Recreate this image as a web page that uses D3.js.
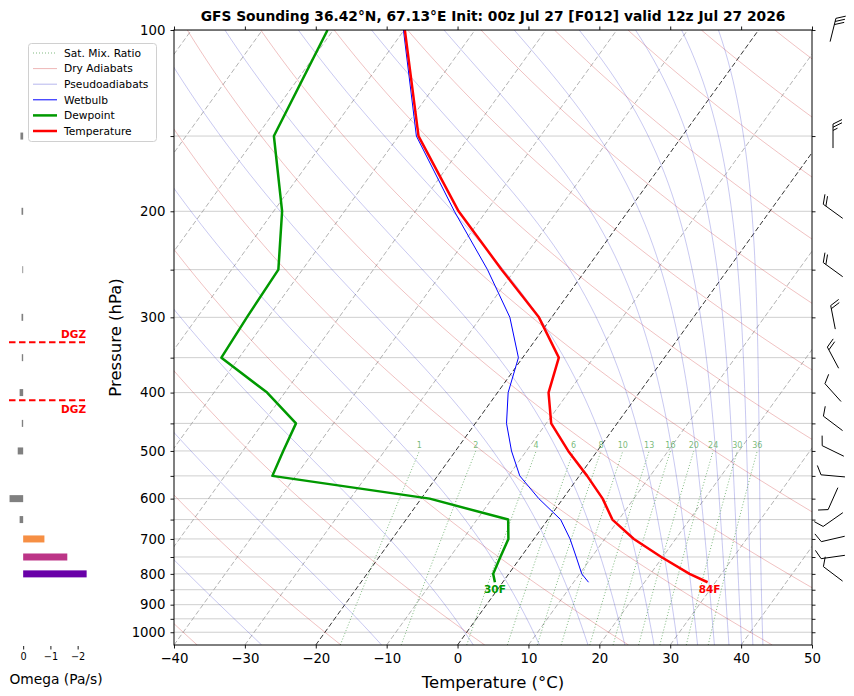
<!DOCTYPE html>
<html>
<head>
<meta charset="utf-8">
<script src="https://cdn.jsdelivr.net/npm/d3@7"></script>
<style>
  body { margin: 0; background: #fff; }
  text { font-family: "DejaVu Sans", sans-serif; }
</style>
</head>
<body>
<div id="chart"></div>
<script>

const WIDTH = 854;
const HEIGHT = 696;

// Skew-T plot box.
const PLOT = {'left': 174, 'right': 812, 'top': 30, 'bottom': 645};
const SKEW = 0.72;   // px of x per px of y

// Sounding (hPa, degC).
const pressure    = [100, 150, 200, 250, 300, 350, 400, 450, 500, 550, 600, 650, 700, 750, 800, 826];
const temperature = [-69.9, -57.2, -43.9, -31.9, -21.8, -14.9, -12.8, -9.3, -4.1, 1.1, 5.6, 9.1, 14.1, 19.8, 25.5, 28.9];
const wetbulb     = [-70.1, -57.5, -44.5, -33.9, -25.9, -20.6, -18.5, -15.6, -12.1, -8.4, -3.4, 1.8, 5.1, 7.8, 10.3, 12.1];
const dewpoint    = [-80.8, -77.6, -68.8, -63.4, -63.0, -62.5, -52.5, -45.3, -44.3, -43.3, -18.8, -5.6, -3.6, -2.9, -2.2, -1.1];

// Winds (deg, kt).
const windLevels = [100, 150, 200, 250, 300, 350, 400, 450, 500, 550, 600, 650, 700, 750, 800];
const windDir    = [14, 0, 306, 306, 349, 332, 318, 307, 296, 275, 204, 235, 257, 262, 307];
const windSpeed  = [30, 25, 20, 20, 20, 20, 10, 10, 10, 10, 10, 10, 10, 10, 10];

// Omega (Pa/s).
const omegaLevels = [100, 150, 200, 250, 300, 350, 400, 450, 500, 550, 600, 650, 700, 750, 800];
const omegaValues = [0, 0.10, 0.06, 0.03, 0.06, 0.05, 0.13, 0.05, 0.20, 0, 0.50, 0.13, -0.78, -1.62, -2.33];
const omegaTicks = [0, -1, -2];

// Dendritic growth zone bounds (hPa).
const dgzPressure = [330, 412];

// Background lines.
const isotherms = [-110, -100, -90, -80, -70, -60, -50, -40, -30, -20, -10, 0, 10, 20, 30, 40, 50];
const dryThetas = [-40, -20, 0, 20, 40, 60, 80, 100, 120, 140, 160, 180, 200, 220, 240];       // degC
const moistThetaE = [223.15, 243.15, 263.15, 283.15, 303.15, 323.15, 343.15, 363.15, 383.15,
                     403.15, 423.15, 443.15, 463.15, 483.15, 503.15];                            // K
const mixingRatios = [1, 2, 4, 6, 8, 10, 13, 16, 20, 24, 30, 36];   // g/kg
const pressureTicks = [100, 150, 200, 250, 300, 350, 400, 450, 500, 550, 600, 650, 700, 750,
                       800, 850, 900, 950, 1000];
const pressureLabels = [100, 200, 300, 400, 500, 600, 700, 800, 900, 1000];

const TITLE = "GFS Sounding 36.42°N, 67.13°E Init: 00z Jul 27 [F012] valid 12z Jul 27 2026";


const xScale = d3.scaleLinear().domain([-40, 50]).range([PLOT.left, PLOT.right]);
const yScale = d3.scaleLog().domain([1050, 100]).range([PLOT.bottom, PLOT.top]);

function skewX(t, p) {
    return xScale(t) + SKEW * (PLOT.bottom - yScale(p));
}

function satVap(tc) {
    return 6.112 * Math.exp(17.67 * tc / (tc + 243.5));
}

// Bolton theta-e for saturated air.
function thetaESat(tc, p) {
    var es = satVap(tc);
    if (es > 0.5 * p) return 1e9;
    var r = 622 * es / (p - es);
    var T = tc + 273.15;
    return T * Math.pow(1000 / p, 0.2854 * (1 - 0.00028 * r)) *
           Math.exp((3.376 / T - 0.00254) * r * (1 + 0.00081 * r));
}

function moistTemp(te, p) {
    var lo = -170, hi = 60;
    for (var i = 0; i < 60; i++) {
        var mid = (lo + hi) / 2;
        if (thetaESat(mid, p) > te) hi = mid; else lo = mid;
    }
    return (lo + hi) / 2;
}

function dewFromMix(w, p) {
    var e = p * w / 1000 / (0.622 + w / 1000);
    var l = Math.log(e / 6.112);
    return 243.5 * l / (17.67 - l);
}

function pRange(p0, p1, n) {
    var out = [];
    for (var i = 0; i <= n; i++) out.push(p0 * Math.pow(p1 / p0, i / n));
    return out;
}

var line = d3.line().x(function (d) { return d[0]; }).y(function (d) { return d[1]; });


var svg = d3.select("#chart").append("svg")
            .attr("width", WIDTH)
            .attr("height", HEIGHT);

svg.append("defs").append("clipPath").attr("id", "plotclip")
   .append("rect")
   .attr("x", PLOT.left).attr("y", PLOT.top)
   .attr("width", PLOT.right - PLOT.left).attr("height", PLOT.bottom - PLOT.top);

var plot = svg.append("g").attr("clip-path", "url(#plotclip)");

// grid lines
plot.selectAll(".hgrid").data(pressureTicks).enter().append("line")
    .attr("x1", PLOT.left).attr("x2", PLOT.right)
    .attr("y1", function (d) { return yScale(d); })
    .attr("y2", function (d) { return yScale(d); })
    .attr("stroke", "#cfcfcf").attr("stroke-width", 1);

// isotherms
plot.selectAll(".iso").data(isotherms).enter().append("line")
    .attr("x1", function (d) { return skewX(d, 1050); })
    .attr("y1", yScale(1050))
    .attr("x2", function (d) { return skewX(d, 100); })
    .attr("y2", yScale(100))
    .attr("stroke", function (d) { return (d == 0 || d == -20) ? "#000" : "#a0a0a0"; })
    .attr("stroke-width", 0.8)
    .attr("stroke-dasharray", "5,2.5");

// dry adiabats
var pDry = pRange(1050, 100, 60);
plot.selectAll(".dry").data(dryThetas).enter().append("path")
    .attr("d", function (th) {
        return line(pDry.map(function (p) {
            var t = (th + 273.15) * Math.pow(p / 1000, 0.2857) - 273.15;
            return [skewX(t, p), yScale(p)];
        }));
    })
    .attr("fill", "none").attr("stroke", "#cc3333")
    .attr("stroke-opacity", 0.5).attr("stroke-width", 0.6);

// pseudoadiabats
plot.selectAll(".moist").data(moistThetaE).enter().append("path")
    .attr("d", function (te) {
        return line(pDry.map(function (p) {
            return [skewX(moistTemp(te, p), p), yScale(p)];
        }));
    })
    .attr("fill", "none").attr("stroke", "#3333cc")
    .attr("stroke-opacity", 0.45).attr("stroke-width", 0.6);

// mixing ratio lines
var pMix = pRange(1050, 500, 20);
plot.selectAll(".mix").data(mixingRatios).enter().append("path")
    .attr("d", function (w) {
        return line(pMix.map(function (p) {
            return [skewX(dewFromMix(w, p), p), yScale(p)];
        }));
    })
    .attr("fill", "none").attr("stroke", "#2a8a2a")
    .attr("stroke-opacity", 0.75).attr("stroke-width", 0.8)
    .attr("stroke-dasharray", "1,2");

svg.selectAll(".mixlab").data(mixingRatios).enter().append("text")
   .attr("x", function (w) { return skewX(dewFromMix(w, 500), 500); })
   .attr("y", yScale(500) - 3)
   .attr("text-anchor", "middle")
   .attr("font-size", "8px")
   .attr("fill", "#3c9a3c").attr("fill-opacity", 0.7)
   .text(function (w) { return w; });

// profiles
function profile(values) {
    return line(pressure.map(function (p, i) { return [skewX(values[i], p), yScale(p)]; }));
}

plot.append("path").attr("d", profile(wetbulb))
    .attr("fill", "none").attr("stroke", "#0000ff").attr("stroke-width", 1);
plot.append("path").attr("d", profile(dewpoint))
    .attr("fill", "none").attr("stroke", "#009900").attr("stroke-width", 2.5)
    .attr("stroke-linejoin", "round");
plot.append("path").attr("d", profile(temperature))
    .attr("fill", "none").attr("stroke", "#ff0000").attr("stroke-width", 2.5)
    .attr("stroke-linejoin", "round");

// surface labels
var nS = pressure.length - 1;
function cToF(c) { return Math.round(c * 9 / 5 + 32); }
svg.append("text")
   .attr("x", skewX(temperature[nS], pressure[nS]) + 2)
   .attr("y", yScale(pressure[nS]) + 11)
   .attr("text-anchor", "middle").attr("font-size", "10.5px").attr("font-weight", "bold")
   .attr("fill", "#ff0000").text(cToF(temperature[nS]) + "F");
svg.append("text")
   .attr("x", skewX(dewpoint[nS], pressure[nS]))
   .attr("y", yScale(pressure[nS]) + 11)
   .attr("text-anchor", "middle").attr("font-size", "10.5px").attr("font-weight", "bold")
   .attr("fill", "#009900").text(cToF(dewpoint[nS]) + "F");

// axes
svg.append("rect")
   .attr("x", PLOT.left).attr("y", PLOT.top)
   .attr("width", PLOT.right - PLOT.left).attr("height", PLOT.bottom - PLOT.top)
   .attr("fill", "none").attr("stroke", "#000").attr("stroke-width", 1);

function styleAxis(g, size) {
    g.select(".domain").remove();
    g.selectAll("text").attr("font-family", "DejaVu Sans").attr("font-size", size).attr("fill", "#000");
    g.selectAll("line").attr("stroke", "#000").attr("stroke-width", 0.9);
}

var tempTicks = isotherms.filter(function (d) { return d >= -40 && d <= 50; });

svg.append("g").attr("transform", "translate(0," + PLOT.bottom + ")")
   .call(d3.axisBottom(xScale).tickValues(tempTicks).tickSize(3.5).tickPadding(5))
   .call(styleAxis, "13.3px");
svg.append("g").attr("transform", "translate(0," + PLOT.top + ")")
   .call(d3.axisTop(xScale).tickValues(tempTicks).tickSize(3.5).tickFormat(""))
   .call(styleAxis, "13.3px");
svg.append("g").attr("transform", "translate(" + PLOT.left + ",0)")
   .call(d3.axisLeft(yScale).tickValues(pressureTicks).tickSize(3.5).tickPadding(5)
           .tickFormat(function (d) { return pressureLabels.indexOf(d) >= 0 ? d : ""; }))
   .call(styleAxis, "13.3px");
svg.append("g").attr("transform", "translate(" + PLOT.right + ",0)")
   .call(d3.axisRight(yScale).tickValues(pressureTicks).tickSize(3.5).tickFormat(""))
   .call(styleAxis, "13.3px");

svg.append("text")
   .attr("x", (PLOT.left + PLOT.right) / 2).attr("y", 688)
   .attr("text-anchor", "middle").attr("font-size", "16.5px")
   .text("Temperature (°C)");
svg.append("text")
   .attr("transform", "translate(121," + (PLOT.top + PLOT.bottom) / 2 + ") rotate(-90)")
   .attr("text-anchor", "middle").attr("font-size", "16.5px")
   .text("Pressure (hPa)");
svg.append("text")
   .attr("x", (PLOT.left + PLOT.right) / 2).attr("y", 21)
   .attr("text-anchor", "middle").attr("font-size", "13.8px").attr("font-weight", "bold")
   .text(TITLE);

// wind barbs
function barbPath(cx, cy, dir, spd) {
    var L = 24, H = 9, S = 3.2;
    var a = dir * Math.PI / 180;
    var ux = Math.sin(a), uy = -Math.cos(a);
    var rx = -uy, ry = ux;
    var tx = cx + ux * L / 2, ty = cy + uy * L / 2;
    var bx = cx - ux * L / 2, by = cy - uy * L / 2;
    var d = "M" + bx + "," + by + "L" + tx + "," + ty;
    var s = Math.round(spd / 5) * 5;
    var nfull = Math.floor(s / 10);
    var half = (s - nfull * 10) >= 5;
    var off = 0;
    for (var i = 0; i < nfull; i++) {
        var px = tx - ux * off, py = ty - uy * off;
        d += "M" + px + "," + py + "L" + (px + rx * H + ux * H / 2) + "," + (py + ry * H + uy * H / 2);
        off += S;
    }
    if (half) {
        if (nfull == 0) off = S;
        var qx = tx - ux * off, qy = ty - uy * off;
        d += "M" + qx + "," + qy + "L" + (qx + rx * H / 2 + ux * H / 4) + "," + (qy + ry * H / 2 + uy * H / 4);
    }
    return d;
}

svg.selectAll(".barb").data(windLevels).enter().append("path")
   .attr("d", function (p, i) { return barbPath(833, yScale(p), windDir[i], windSpeed[i]); })
   .attr("fill", "none").attr("stroke", "#000").attr("stroke-width", 1);

// omega panel
var oScale = d3.scaleLinear().domain([0.52, -2.27]).range([9, 85]);
var plasma = d3.scaleLinear().domain([0, -2.9]).range([1, 0]);

svg.selectAll(".omega").data(omegaLevels).enter().append("rect")
   .attr("x", function (p, i) { return Math.min(oScale(0), oScale(omegaValues[i])); })
   .attr("width", function (p, i) { return Math.abs(oScale(omegaValues[i]) - oScale(0)); })
   .attr("y", function (p) { return yScale(p) - 3.5; })
   .attr("height", 7)
   .attr("fill", function (p, i) {
       var w = omegaValues[i];
       return w < 0 ? d3.interpolatePlasma(plasma(w)) : "#808080";
   });

svg.append("g").attr("transform", "translate(0," + (PLOT.bottom + 1) + ")")
   .call(d3.axisBottom(oScale).tickValues(omegaTicks).tickSize(3.5).tickPadding(4)
           .tickFormat(d3.format("d")))
   .call(styleAxis, "9.7px");

svg.append("text")
   .attr("x", 56).attr("y", 684)
   .attr("text-anchor", "middle").attr("font-size", "13.8px")
   .text("Omega (Pa/s)");

svg.selectAll(".dgz").data(dgzPressure).enter().append("line")
   .attr("x1", 9).attr("x2", 85)
   .attr("y1", function (p) { return yScale(p); })
   .attr("y2", function (p) { return yScale(p); })
   .attr("stroke", "#ff0000").attr("stroke-width", 2)
   .attr("stroke-dasharray", "6.5,3.5");

svg.selectAll(".dgzlab").data(dgzPressure).enter().append("text")
   .attr("x", 86)
   .attr("y", function (p, i) { return yScale(p) + (i == 0 ? -4 : 13); })
   .attr("text-anchor", "end").attr("font-size", "10.5px").attr("font-weight", "bold")
   .attr("fill", "#ff0000").text("DGZ");

// legend
var legendItems = [
    {'label': 'Sat. Mix. Ratio', 'color': '#2a8a2a', 'width': 0.8, 'dash': '1,2', 'op': 0.75},
    {'label': 'Dry Adiabats',    'color': '#cc3333', 'width': 0.8, 'dash': null, 'op': 0.45},
    {'label': 'Pseudoadiabats',  'color': '#3333cc', 'width': 0.8, 'dash': null, 'op': 0.45},
    {'label': 'Wetbulb',         'color': '#0000ff', 'width': 1,   'dash': null, 'op': 1},
    {'label': 'Dewpoint',        'color': '#009900', 'width': 2.5, 'dash': null, 'op': 1},
    {'label': 'Temperature',     'color': '#ff0000', 'width': 2.5, 'dash': null, 'op': 1}
];

var legend = svg.append("g");
legend.append("rect")
      .attr("x", 28.5).attr("y", 43.5).attr("width", 128).attr("height", 98)
      .attr("rx", 3).attr("fill", "#fff").attr("fill-opacity", 0.85)
      .attr("stroke", "#d0d0d0").attr("stroke-width", 1);

var rows = legend.selectAll(".row").data(legendItems).enter().append("g")
                 .attr("transform", function (d, i) { return "translate(0," + (53 + i * 15.6) + ")"; });
rows.append("line")
    .attr("x1", 33).attr("x2", 57)
    .attr("stroke", function (d) { return d.color; })
    .attr("stroke-width", function (d) { return d.width; })
    .attr("stroke-opacity", function (d) { return d.op; })
    .attr("stroke-dasharray", function (d) { return d.dash; });
rows.append("text")
    .attr("x", 64).attr("dy", "0.35em")
    .attr("font-size", "10.7px")
    .text(function (d) { return d.label; });

</script>
</body>
</html>
